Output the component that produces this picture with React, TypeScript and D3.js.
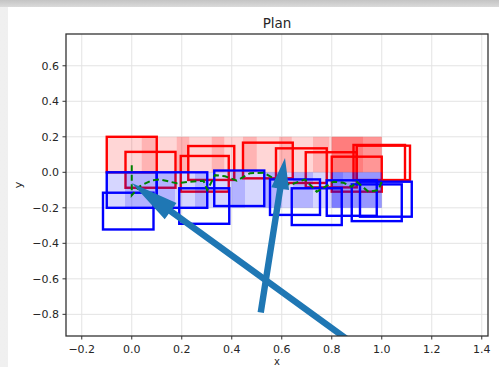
import React from "react";
import * as d3 from "d3";

// ---- data (data units) ----
const xTicks = [-0.2, 0.0, 0.2, 0.4, 0.6, 0.8, 1.0, 1.2, 1.4];
const yTicks = [-0.8, -0.6, -0.4, -0.2, 0.0, 0.2, 0.4, 0.6];

// red translucent cells: [x0, x1, y0, y1]
const redCells: number[][] = [
  [-0.1, 0.1, 0, 0.2],
  [0.04, 0.23, 0, 0.2],
  [0.18, 0.37, 0, 0.2],
  [0.32, 0.5, 0, 0.2],
  [0.445, 0.64, 0, 0.2],
  [0.59, 0.79, 0, 0.2],
  [0.725, 0.925, 0, 0.2],
  [0.8, 1.0, 0, 0.2],
  [0.8, 1.0, 0, 0.2],
  [0.8, 1.0, 0, 0.2],
];
const blueCells: number[][] = [
  [-0.1, 0.1, -0.2, 0],
  [-0.027, 0.173, -0.2, 0],
  [0.1, 0.3, -0.2, 0],
  [0.253, 0.453, -0.2, 0],
  [0.4, 0.6, -0.2, 0],
  [0.525, 0.725, -0.2, 0],
  [0.645, 0.845, -0.2, 0],
  [0.8, 1.0, -0.2, 0],
  [0.8, 1.0, -0.2, 0],
  [0.8, 1.0, -0.2, 0],
];

// outlined boxes: [x0, x1, y0, y1]
const redBoxes: number[][] = [
  [-0.1, 0.1, 0, 0.2],
  [-0.025, 0.175, -0.087, 0.115],
  [0.196, 0.388, -0.109, 0.092],
  [0.226, 0.41, -0.043, 0.148],
  [0.445, 0.644, -0.034, 0.167],
  [0.577, 0.78, -0.06, 0.135],
  [0.696, 0.9, -0.085, 0.113],
  [0.8, 1.0, -0.109, 0.088],
  [0.887, 1.093, -0.044, 0.154],
  [0.9, 1.113, -0.044, 0.15],
];
const blueBoxes: number[][] = [
  [-0.1, 0.1, -0.2, 0],
  [-0.115, 0.087, -0.322, -0.115],
  [0.1, 0.302, -0.2, 0.0],
  [0.19, 0.39, -0.29, -0.09],
  [0.33, 0.53, -0.19, 0.01],
  [0.553, 0.753, -0.24, -0.04],
  [0.64, 0.84, -0.297, -0.09],
  [0.78, 0.98, -0.245, -0.045],
  [0.88, 1.08, -0.275, -0.068],
  [0.913, 1.12, -0.25, -0.053],
];

// green dashed path
const pathX = [0.0, 0.0, 0.03, 0.08, 0.113, 0.18, 0.233, 0.287, 0.302, 0.333, 0.373, 0.42, 0.473, 0.527, 0.58, 0.633, 0.693, 0.74, 0.807, 0.847, 0.88, 0.9, 0.947, 0.987, 1.0];
const pathY = [0.04, -0.13, -0.08, -0.045, -0.04, -0.062, -0.053, -0.047, -0.1, -0.016, -0.022, -0.047, -0.005, -0.002, -0.043, -0.071, -0.04, -0.11, -0.053, -0.059, -0.081, -0.053, -0.11, -0.1, -0.05];

// arrows: tail -> tip
const arrowTailX = [0.9, 0.516];
const arrowTailY = [-0.98, -0.79];
const arrowTipX = [0.0, 0.613];
const arrowTipY = [-0.06, 0.08];

// ---- layout / style ----
const W = 499, H = 367;
const L = 66, R = 488, T = 34, B = 336;
const arrowStyle = [
  { headLen: 48, headHalf: 10, shaftHalf: 3.2 },
  { headLen: 31, headHalf: 9, shaftHalf: 3.2 },
];

export default function App() {
  const x = d3.scaleLinear().domain([-0.263, 1.425]).range([L, R]);
  const y = d3.scaleLinear().domain([-0.922, 0.779]).range([B, T]);
  const font = "DejaVu Sans, sans-serif";

  const rectEl = (c: number[], i: number, props: any) => (
    <rect key={i} x={x(c[0])} y={y(c[3])} width={x(c[1]) - x(c[0])} height={y(c[2]) - y(c[3])} {...props} />
  );

  const line = d3.line<number>().x((_, i) => x(pathX[i])).y((_, i) => y(pathY[i]));
  const pathD = line(pathX) || "";

  const arrows = arrowTipX.map((_, i) => {
    const tx = x(arrowTailX[i]), ty = y(arrowTailY[i]);
    const hx = x(arrowTipX[i]), hy = y(arrowTipY[i]);
    const dx = hx - tx, dy = hy - ty;
    const len = Math.hypot(dx, dy);
    const ux = dx / len, uy = dy / len;
    const px = -uy, py = ux;
    const s = arrowStyle[i];
    const bx = hx - ux * s.headLen, by = hy - uy * s.headLen;
    const pts = [
      [tx + px * s.shaftHalf, ty + py * s.shaftHalf],
      [bx + px * s.shaftHalf, by + py * s.shaftHalf],
      [bx + px * s.headHalf, by + py * s.headHalf],
      [hx, hy],
      [bx - px * s.headHalf, by - py * s.headHalf],
      [bx - px * s.shaftHalf, by - py * s.shaftHalf],
      [tx - px * s.shaftHalf, ty - py * s.shaftHalf],
    ];
    return <polygon key={i} points={pts.map((p) => p.join(",")).join(" ")} fill="#1f77b4" />;
  });

  const fmt = (t: number) => d3.format(".1f")(t).replace("-", "\u2212");

  return (
    <svg width={W} height={H} style={{ position: "absolute", left: 0, top: 0 }} fontFamily={font}>
      <defs>
        <linearGradient id="topg" x1="0" y1="0" x2="0" y2="1">
          <stop offset="0" stopColor="#c4c4c4" />
          <stop offset="1" stopColor="#dadada" />
        </linearGradient>
        <linearGradient id="leftg" x1="0" y1="0" x2="1" y2="0">
          <stop offset="0" stopColor="#f0f0f0" />
          <stop offset="1" stopColor="#e4e4e4" />
        </linearGradient>
        <clipPath id="axclip">
          <rect x={L} y={T} width={R - L} height={B - T} />
        </clipPath>
      </defs>
      <rect x={0} y={0} width={W} height={H} fill="url(#leftg)" />
      <rect x={0} y={0} width={W} height={7} fill="url(#topg)" />
      <rect x={8} y={7} width={W - 8} height={H - 7} fill="#ffffff" />

      {/* grid */}
      <g stroke="#e3e3e3" strokeWidth={1}>
        {xTicks.map((t) => (
          <line key={"gx" + t} x1={x(t)} x2={x(t)} y1={T} y2={B} />
        ))}
        {yTicks.map((t) => (
          <line key={"gy" + t} x1={L} x2={R} y1={y(t)} y2={y(t)} />
        ))}
      </g>

      <g clipPath="url(#axclip)">
        {redBoxes.map((c, i) => rectEl(c, i, { fill: "none", stroke: "#ff0000", strokeWidth: 2.4 }))}
        {redCells.map((c, i) => rectEl(c, i, { fill: "#ff0000", fillOpacity: 0.16 }))}
        {blueBoxes.map((c, i) => rectEl(c, i, { fill: "none", stroke: "#0000ff", strokeWidth: 2.4 }))}
        {blueCells.map((c, i) => rectEl(c, i, { fill: "#0000ff", fillOpacity: 0.16 }))}
        <path d={pathD} fill="none" stroke="#008000" strokeWidth={2} strokeDasharray="6,3.5" />
        {arrows}
      </g>

      {/* spines */}
      <rect x={L} y={T} width={R - L} height={B - T} fill="none" stroke="#333" strokeWidth={1.3} />

      {/* ticks */}
      <g fontSize={11} fill="#262626">
        {xTicks.map((t) => (
          <g key={"tx" + t}>
            <line x1={x(t)} x2={x(t)} y1={B} y2={B + 3.5} stroke="#333" strokeWidth={1} />
            <text x={x(t)} y={B + 16.5} textAnchor="middle">
              {fmt(t)}
            </text>
          </g>
        ))}
        {yTicks.map((t) => (
          <g key={"ty" + t}>
            <line x1={L - 3.5} x2={L} y1={y(t)} y2={y(t)} stroke="#333" strokeWidth={1} />
            <text x={L - 7} y={y(t) + 4} textAnchor="end">
              {fmt(t)}
            </text>
          </g>
        ))}
      </g>

      <text x={(L + R) / 2} y={28} textAnchor="middle" fontSize={13.5} fill="#262626">
        Plan
      </text>
      <text x={(L + R) / 2} y={364.6} textAnchor="middle" fontSize={10} fill="#262626">
        x
      </text>
      <text transform={`translate(22, ${(T + B) / 2}) rotate(-90)`} textAnchor="middle" fontSize={11} fill="#262626">
        y
      </text>
    </svg>
  );
}
